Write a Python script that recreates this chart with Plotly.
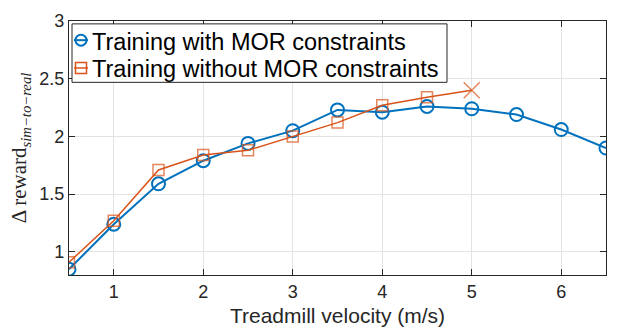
import plotly.graph_objects as go

velocity_with = [0.5, 1, 1.5, 2, 2.5, 3, 3.5, 4, 4.5, 5, 5.5, 6, 6.5]
reward_with = [0.85, 1.24, 1.59, 1.79, 1.94, 2.05, 2.23, 2.21, 2.26, 2.24, 2.19, 2.06, 1.90]

velocity_without = [0.5, 1, 1.5, 2, 2.5, 3, 3.5, 4, 4.5, 5]
reward_without = [0.91, 1.27, 1.71, 1.84, 1.88, 2.00, 2.12, 2.27, 2.34, 2.40]

x_ticks = [1, 2, 3, 4, 5, 6]
y_ticks = [1, 1.5, 2, 2.5, 3]

series_names = ["Training with MOR constraints", "Training without MOR constraints"]

blue = "#0072BD"
orange = "#D95319"

fig = go.Figure()
fig.add_trace(go.Scatter(
    x=velocity_with, y=reward_with, mode="lines+markers",
    name=series_names[0], showlegend=False,
    line=dict(color=blue, width=2),
    marker=dict(symbol="circle-open", size=13, color=blue, line=dict(width=2, color=blue)),
))
symbols = ["square-open"] * (len(velocity_without) - 1) + ["x-thin-open"]
sizes = [11] * (len(velocity_without) - 1) + [16]
fig.add_trace(go.Scatter(
    x=velocity_without, y=reward_without, mode="lines+markers",
    name=series_names[1], showlegend=False,
    line=dict(color=orange, width=1.5),
    marker=dict(symbol=symbols, size=sizes, color=orange, line=dict(width=1.5, color=orange)),
))

# ---- legend box (drawn in paper coordinates, MATLAB-style compact legend) ----
PW, PH = 537.0, 265.0  # plot area size in px
def px2x(px):
    return (px - 69) / PW
def px2y(py):
    return (276 - py) / PH

fig.add_shape(type="rect", xref="paper", yref="paper",
              x0=px2x(72), x1=px2x(447), y0=px2y(75), y1=px2y(14),
              line=dict(color="#262626", width=1), fillcolor="white", layer="above")

legend_rows = [
    (series_names[0], blue, "circle", 2.0, 31),
    (series_names[1], orange, "rect", 1.5, 60),
]
for name, col, kind, lw, py in legend_rows:
    fig.add_shape(type="line", xref="paper", yref="paper",
                  x0=px2x(74), x1=px2x(88), y0=px2y(py), y1=px2y(py),
                  line=dict(color=col, width=lw), layer="above")
    fig.add_shape(type=kind, xref="paper", yref="paper",
                  xsizemode="pixel", ysizemode="pixel",
                  xanchor=px2x(81), yanchor=px2y(py),
                  x0=-5.5, x1=5.5, y0=-5.5, y1=5.5,
                  line=dict(color=col, width=lw), fillcolor="rgba(0,0,0,0)", layer="above")
    fig.add_annotation(text=name, xref="paper", yref="paper",
                       x=px2x(90), y=px2y(py + 1.5), xanchor="left", yanchor="middle",
                       showarrow=False,
                       font=dict(family="Liberation Sans, Arial", size=23.5, color="black"))

axis_common = dict(
    showline=True, linecolor="#262626", linewidth=1.2, mirror="ticks",
    ticks="inside", ticklen=6, tickcolor="#262626", tickwidth=1,
    showgrid=True, gridcolor="#e3e3e3", gridwidth=1, zeroline=False,
    tickfont=dict(family="Liberation Sans, Arial", size=18, color="#262626"),
)

fig.update_layout(
    width=623, height=334,
    margin=dict(l=69, r=17, t=11, b=58),
    plot_bgcolor="white", paper_bgcolor="white",
    showlegend=False,
    xaxis=dict(
        range=[0.5, 6.5], tickvals=x_ticks,
        title=dict(text="Treadmill velocity (m/s)", standoff=7,
                   font=dict(family="Liberation Sans, Arial", size=21, color="#262626")),
        **axis_common,
    ),
    yaxis=dict(
        range=[0.8, 3], tickvals=y_ticks,
        title=dict(text="Δ reward<sub><i>sim−to−real</i></sub>", standoff=6,
                   font=dict(family="Liberation Serif, Times New Roman, serif", size=21, color="#262626")),
        **axis_common,
    ),
)

fig.write_html("out.html")
